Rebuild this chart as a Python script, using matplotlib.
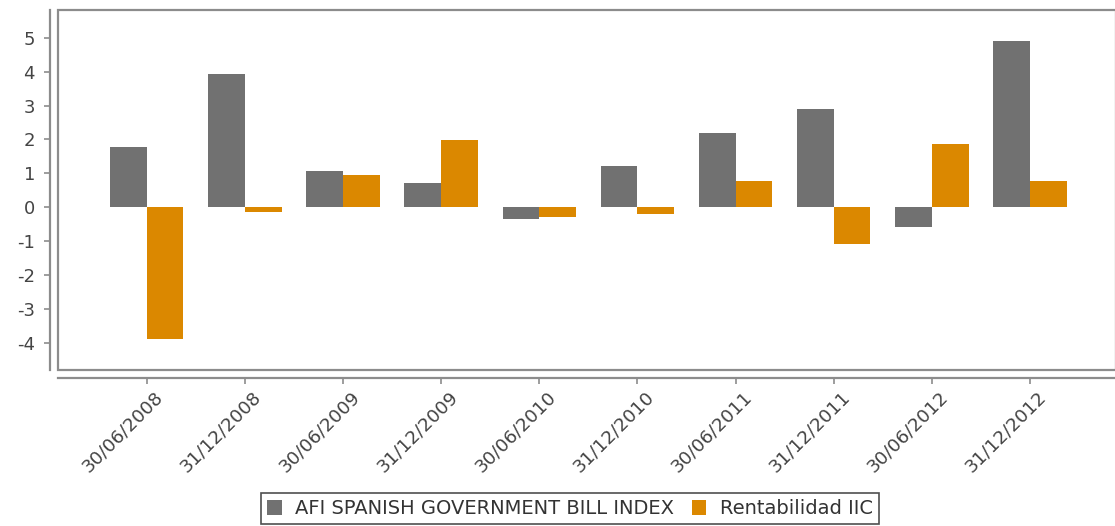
import matplotlib
matplotlib.use("Agg")
import matplotlib.pyplot as plt
import matplotlib.transforms as mtrans
from matplotlib.patches import Rectangle
import numpy as np

dates = ["30/06/2008", "31/12/2008", "30/06/2009", "31/12/2009", "30/06/2010",
         "31/12/2010", "30/06/2011", "31/12/2011", "30/06/2012", "31/12/2012"]
afi_index = [1.79, 3.94, 1.08, 0.73, -0.36, 1.21, 2.19, 2.90, -0.59, 4.90]
rentabilidad = [-3.89, -0.14, 0.96, 1.98, -0.28, -0.21, 0.78, -1.08, 1.88, 0.78]
series_names = ["AFI SPANISH GOVERNMENT BILL INDEX", "Rentabilidad IIC"]
yticks = [-4, -3, -2, -1, 0, 1, 2, 3, 4, 5]

plt.rcParams['font.family'] = ['DejaVu Sans']

W, H = 1115, 526
fig = plt.figure(figsize=(W / 100, H / 100), dpi=100)
left, right, top, bottom = 58, 1116, 10, 370
ax = fig.add_axes([left / W, 1 - bottom / H, (right - left) / W, (bottom - top) / H])

x = np.arange(len(dates))
bw = 0.374
grey = "#717171"
orange = "#DB8800"
ax.bar(x - bw / 2, afi_index, width=bw, color=grey, label=series_names[0])
ax.bar(x + bw / 2, rentabilidad, width=bw, color=orange, label=series_names[1])

ax.set_xlim(-0.904, 9.877)
ax.set_ylim(-4.8, 5.82)

frame_col = "#8c8c8c"
ax.add_patch(Rectangle((0, 0), 1, 1, transform=ax.transAxes, fill=False,
                       edgecolor=frame_col, linewidth=1.6, clip_on=False, zorder=5))
for s in ["top", "right"]:
    ax.spines[s].set_visible(False)
ax.spines["left"].set_position(("outward", 6.1))
ax.spines["bottom"].set_position(("outward", 5.8))
for s in ["left", "bottom"]:
    ax.spines[s].set_color(frame_col)
    ax.spines[s].set_linewidth(1.6)

ax.set_yticks(yticks)
ax.set_yticklabels([str(v) for v in yticks])
ax.set_xticks(x)
ax.set_xticklabels(dates, rotation=45, ha="right", va="top")
ax.tick_params(axis="both", colors=frame_col, labelcolor="#444444",
               length=4, width=1.2)
ax.tick_params(axis="y", pad=6.5, labelsize=13)
ax.tick_params(axis="x", pad=3, labelsize=13.2)

off = mtrans.ScaledTranslation(20 / 100, 0, fig.dpi_scale_trans)
for lab in ax.get_xticklabels():
    lab.set_transform(lab.get_transform() + off)

leg = fig.legend(loc="lower center", bbox_to_anchor=(570 / W, 2 / H), ncol=2,
                 frameon=True, fancybox=False, edgecolor="#222222", fontsize=14,
                 handlelength=0.75, handleheight=0.75, handletextpad=0.7,
                 columnspacing=0.9, borderpad=0.3, labelcolor="#333333",
                 borderaxespad=0)
leg.get_frame().set_linewidth(1.2)

fig.savefig("out.png", dpi=100)
